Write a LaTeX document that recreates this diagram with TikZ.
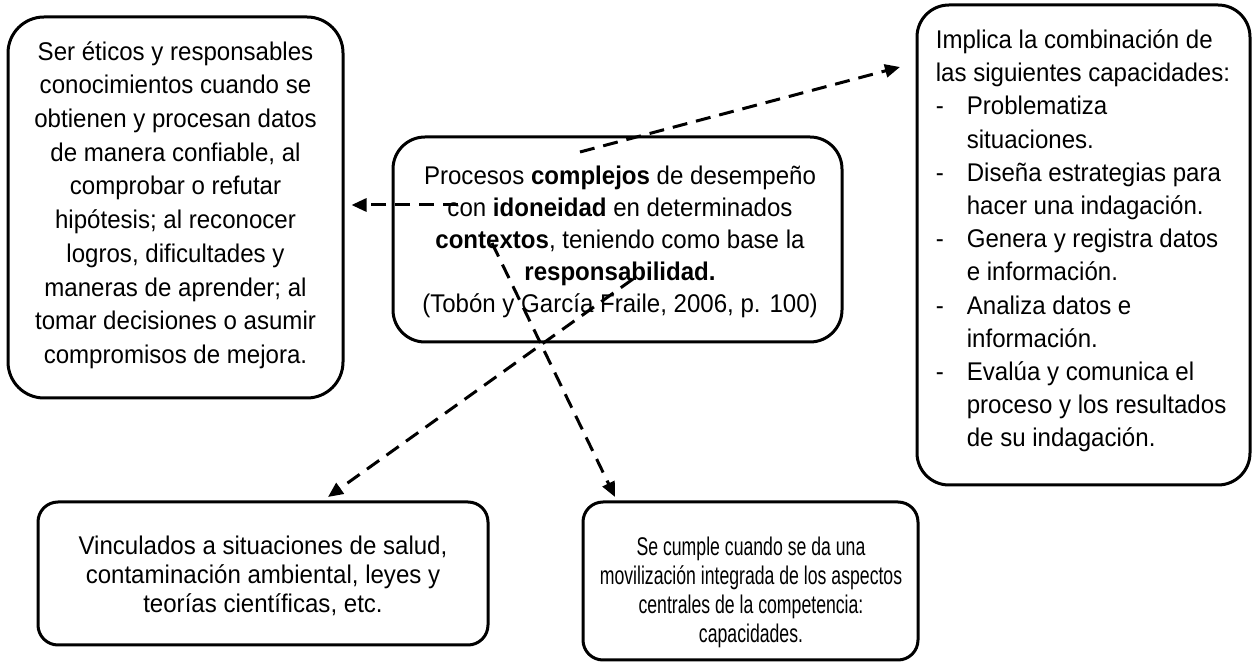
\documentclass[tikz,border=0pt]{standalone}
\usepackage{fontspec}
\setmainfont{Liberation Sans}[FakeStretch=0.94]
\newfontfamily\narrowfont{Liberation Sans}[FakeStretch=0.69]
\usetikzlibrary{arrows.meta}
\newcommand{\itm}{\makebox[15.5pt][l]{-}}
\newcommand{\ind}{\hspace*{15.5pt}}
\begin{document}
\begin{tikzpicture}[x=0.5pt,y=-0.5pt,
  box/.style={draw,line width=1.5pt,inner sep=0pt},
  txt/.style={inner sep=0pt},
  arr/.style={line width=1.5pt,dash pattern=on 7.5pt off 4.5pt,-{Triangle[length=7.5pt,width=6.5pt]}}]
\useasboundingbox (0,0) rectangle (1255,662);
% boxes
\node[box,rounded corners=18pt,minimum width=167.5pt,minimum height=190.5pt] (L) at (175.5,207.5) {};
\node[box,rounded corners=16pt,minimum width=224.5pt,minimum height=102.5pt] (C) at (617.5,239.5) {};
\node[box,rounded corners=16pt,minimum width=166.5pt,minimum height=240pt] (R) at (1083.5,245) {};
\node[box,rounded corners=10pt,minimum width=225pt,minimum height=71.5pt] (BL) at (263,573.5) {};
\node[box,rounded corners=10pt,minimum width=167.5pt,minimum height=79pt] (BR) at (750.5,581) {};
% texts
\node[txt,align=center,font=\fontsize{12.8}{16.85}\selectfont] (Lt) at (175.5,205) {Ser éticos y responsables\\
conocimientos cuando se\\
obtienen y procesan datos\\
de manera confiable, al\\
comprobar o refutar\\
hipótesis; al reconocer\\
logros, dificultades y\\
maneras de aprender; al\\
tomar decisiones o asumir\\
compromisos de mejora.};
\node[txt,align=center,font=\fontsize{12.8}{16}\selectfont] (Ct) at (620,242) {Procesos \textbf{complejos} de desempeño\\
con \textbf{idoneidad} en determinados\\
\textbf{contextos}, teniendo como base la\\
\textbf{responsabilidad.}\\
(Tobón y García Fraile, 2006, p. 100)};
\node[txt,align=left,font=\fontsize{12.8}{16.6}\selectfont] (Rt) at (1083,241) {Implica la combinación de\\
las siguientes capacidades:\\
\itm Problematiza\\
\ind situaciones.\\
\itm Diseña estrategias para\\
\ind hacer una indagación.\\
\itm Genera y registra datos\\
\ind e información.\\
\itm Analiza datos e\\
\ind información.\\
\itm Evalúa y comunica el\\
\ind proceso y los resultados\\
\ind de su indagación.};
\node[txt,align=center,font=\fontsize{12.8}{14.5}\selectfont] (BLt) at (263,576) {Vinculados a situaciones de salud,\\
contaminación ambiental, leyes y\\
teorías científicas, etc.};
\node[txt,align=center,font=\narrowfont\fontsize{12.8}{14.5}\selectfont] (BRt) at (751,592) {Se cumple cuando se da una\\
movilización integrada de los aspectos\\
centrales de la competencia:\\
capacidades.};
% connectors
\coordinate (sL) at (458,205);
\coordinate (sR) at (580,152);
\coordinate (sBL) at (633,279);
\coordinate (sBR) at (492,243);
\coordinate (tR) at (900,67);
\coordinate (tBL) at (328,497);
\coordinate (tBR) at (615,497);
\draw[arr] (sL) -- ([xshift=3.5pt]L.east |- sL);
\draw[arr] (sR) -- (tR);
\draw[arr] (sBL) -- (tBL);
\draw[arr] (sBR) -- (tBR);
\end{tikzpicture}
\end{document}
